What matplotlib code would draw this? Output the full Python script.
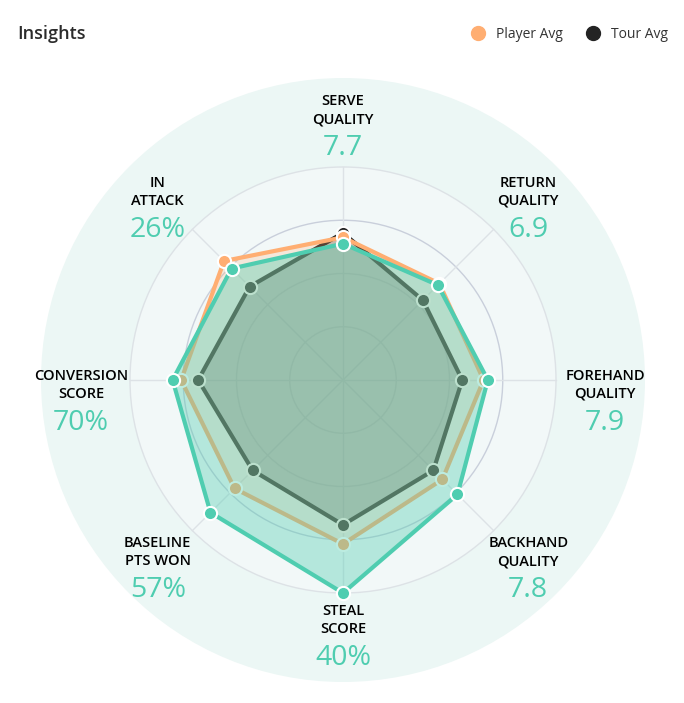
import numpy as np
import matplotlib.pyplot as plt
from matplotlib.lines import Line2D
from matplotlib.patches import Circle

plt.rcParams['font.family'] = ['Open Sans', 'DejaVu Sans']

# axes, clockwise from the top
names = ['SERVE\nQUALITY', 'RETURN\nQUALITY', 'FOREHAND\nQUALITY', 'BACKHAND\nQUALITY',
         'STEAL\nSCORE', 'BASELINE\nPTS WON', 'CONVERSION\nSCORE', 'IN\nATTACK']
shown = ['7.7', '6.9', '7.9', '7.8', '40%', '57%', '70%', '26%']

# scores on a 0-100 scale
player = [64, 63, 68, 76, 100, 88, 80, 74]
player_avg = [67, 64, 66, 66, 77, 72, 76, 79]
tour_avg = [69, 53, 56, 60, 68, 60, 68, 62]

teal = '#4fcdb0'
orange = '#ffae72'
dark = '#242424'

W, H = 684, 703
fig = plt.figure(figsize=(W / 100, H / 100), dpi=100)
ax = fig.add_axes([0, 0, 1, 1])
ax.set_xlim(0, W)
ax.set_ylim(H, 0)
ax.axis('off')

cx, cy = 343, 380
rmax = 213
ang = np.arange(len(names)) * 2 * np.pi / len(names)


def xy(vals, scale=1.0):
    r = np.asarray(vals, dtype=float) / 100 * rmax * scale
    return cx + r * np.sin(ang), cy - r * np.cos(ang)


# background discs
ax.add_patch(Circle((cx, cy), 302, facecolor='#ecf7f5', edgecolor='none', zorder=0))
ax.add_patch(Circle((cx, cy), rmax, facecolor='#f2f8f8', edgecolor='none', zorder=0))
for k in range(1, 5):
    col = '#c9cfdb' if k == 3 else '#dde2e6'
    ax.add_patch(Circle((cx, cy), rmax * k / 4, facecolor='none', edgecolor=col, lw=1, zorder=1))
for a in ang:
    ax.plot([cx, cx + rmax * np.sin(a)], [cy, cy - rmax * np.cos(a)], color='#dde2e6', lw=1, zorder=1)

# series, tour first, player on top
for vals, col, fa, z in [(tour_avg, dark, 0.28, 2), (player_avg, orange, 0.22, 3), (player, teal, 0.38, 4)]:
    x, y = xy(vals)
    ax.fill(x, y, color=col, alpha=fa, lw=0, zorder=z)
    ax.plot(np.append(x, x[0]), np.append(y, y[0]), color=col, lw=3, zorder=z, solid_joinstyle='miter')
    ax.plot(x, y, 'o', ms=9.5, mfc=col, mec='white', mew=1.5, zorder=z)

# axis names and values
for a, n, v in zip(ang, names, shown):
    bx = cx + 262 * np.sin(a)
    by = cy - 255 * np.cos(a) + 20 * abs(np.sin(a)) ** 3
    l1, l2 = n.split('\n')
    ax.text(bx, by - 24, l1, ha='center', va='center', fontsize=10.5, color='#000000', fontweight='semibold')
    ax.text(bx, by - 6, l2, ha='center', va='center', fontsize=10.5, color='#000000', fontweight='semibold')
    ax.text(bx, by + 23, v, ha='center', va='center', fontsize=20.5, color=teal)

ax.text(17, 34, 'Insights', ha='left', va='center', fontsize=13, color='#2b2b2b', fontweight='semibold')

handles = [Line2D([], [], ls='none', marker='o', ms=10, mfc=orange, mec=orange, label='Player Avg'),
           Line2D([], [], ls='none', marker='o', ms=10, mfc=dark, mec=dark, label='Tour Avg')]
fig.legend(handles=handles, loc='center right', bbox_to_anchor=(0.995, 0.951), ncol=2, frameon=False,
           fontsize=10, handletextpad=0.3, columnspacing=1.2, labelcolor='#333333')

fig.savefig('out.png', dpi=100, facecolor='white')
